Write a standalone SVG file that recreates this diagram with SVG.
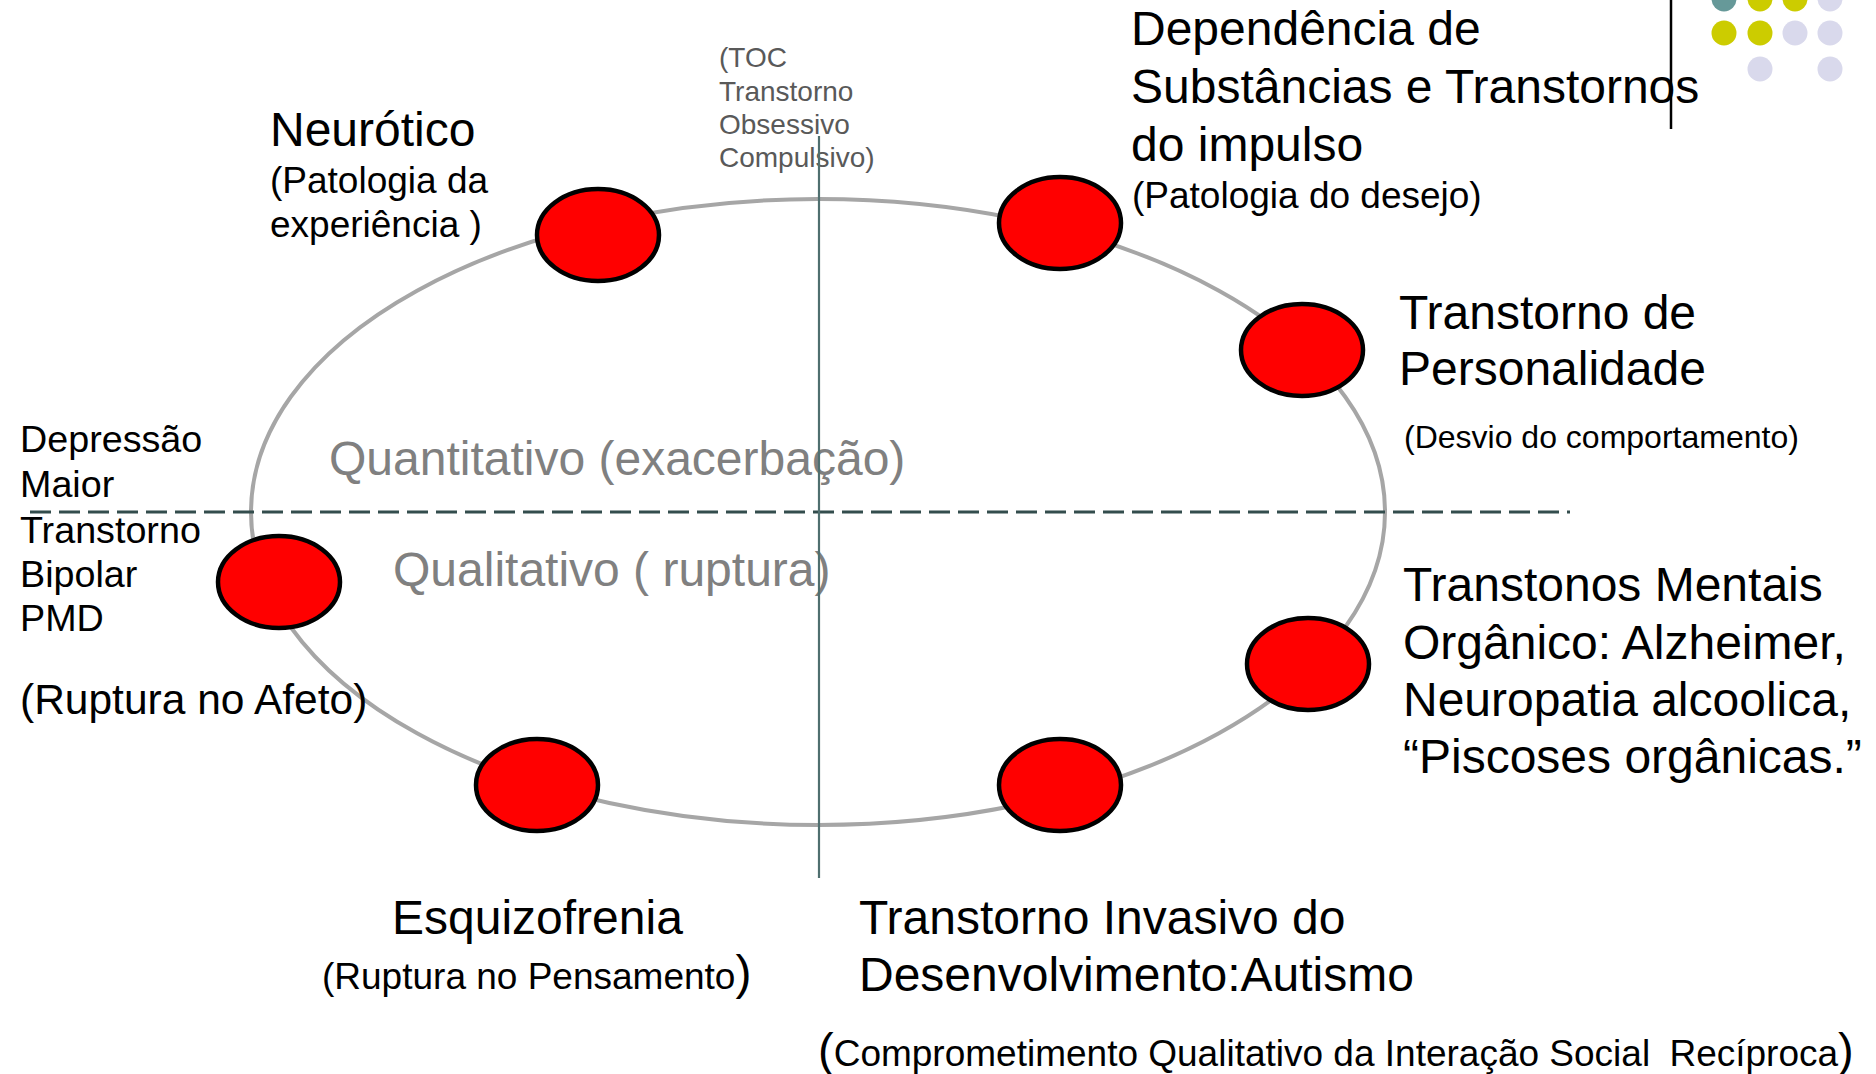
<svg xmlns="http://www.w3.org/2000/svg" width="1876" height="1074" viewBox="0 0 1876 1074">
<style>
  text { font-family: "Liberation Sans", Arial, sans-serif; fill: #000; }
  .t { font-size: 48px; }
  .s { font-size: 37px; }
  .side { font-size: 37.7px; }
  .toc { font-size: 28px; fill: #595959; }
  .zone { font-size: 48px; fill: #808080; }
  .node { fill: #FF0000; stroke: #000; stroke-width: 4.5; }
  .ring { fill: none; stroke: #A6A6A6; stroke-width: 4; }
  .vaxis { stroke: #4F6F6F; stroke-width: 2.2; }
  .haxis { stroke: #334D4D; stroke-width: 3; stroke-dasharray: 21 8; }
</style>
<rect width="1876" height="1074" fill="#FFFFFF"/>

<g id="decor">
  <line x1="1671" y1="0" x2="1671" y2="129" stroke="#000" stroke-width="2.5"/>
  <circle cx="1724" cy="-1" r="12.5" fill="#669999"/>
  <circle cx="1760" cy="-1" r="12.5" fill="#CCCC00"/>
  <circle cx="1795" cy="-1" r="12.5" fill="#CCCC00"/>
  <circle cx="1830" cy="-1" r="12.5" fill="#D9D9EC"/>
  <circle cx="1724" cy="33" r="12.5" fill="#CCCC00"/>
  <circle cx="1760" cy="33" r="12.5" fill="#CCCC00"/>
  <circle cx="1795" cy="33" r="12.5" fill="#D9D9EC"/>
  <circle cx="1830" cy="33" r="12.5" fill="#D9D9EC"/>
  <circle cx="1760" cy="69" r="12.5" fill="#D9D9EC"/>
  <circle cx="1830" cy="69" r="12.5" fill="#D9D9EC"/>
</g>

<g id="connectors">
  <ellipse class="ring" cx="818" cy="512" rx="567" ry="313"/>
  <line class="haxis" x1="30" y1="512" x2="1570" y2="512"/>
</g>

<g id="zones">
  <text class="zone" x="329" y="475">Quantitativo (exacerbação)</text>
  <text class="zone" x="393" y="586">Qualitativo ( ruptura)</text>
</g>

<g id="toc">
  <text class="toc" x="719" y="67">(TOC</text>
  <text class="toc" x="719" y="101">Transtorno</text>
  <text class="toc" x="719" y="134">Obsessivo</text>
  <text class="toc" x="719" y="167">Compulsivo)</text>
</g>

<g id="node-neurotico">
  <ellipse class="node" cx="598" cy="235" rx="61" ry="46"/>
  <text class="t" x="270" y="146">Neurótico</text>
  <text class="s" x="270" y="193">(Patologia da</text>
  <text class="s" x="270" y="237">experiência )</text>
</g>

<g id="node-dependencia">
  <ellipse class="node" cx="1060" cy="223" rx="61" ry="46"/>
  <text class="t" x="1131" y="45">Dependência de</text>
  <text class="t" x="1131" y="103">Substâncias e Transtornos</text>
  <text class="t" x="1131" y="161">do impulso</text>
  <text class="s" x="1132" y="208">(Patologia do desejo)</text>
</g>

<g id="node-personalidade">
  <ellipse class="node" cx="1302" cy="350" rx="61" ry="46"/>
  <text class="t" x="1399" y="329">Transtorno de</text>
  <text class="t" x="1399" y="385">Personalidade</text>
  <text x="1404" y="448" font-size="32">(Desvio do comportamento)</text>
</g>

<g id="node-organico">
  <ellipse class="node" cx="1308" cy="664" rx="61" ry="46"/>
  <text class="t" x="1403" y="601">Transtonos Mentais</text>
  <text class="t" x="1403" y="659">Orgânico: Alzheimer,</text>
  <text class="t" x="1403" y="716">Neuropatia alcoolica,</text>
  <text class="t" x="1403" y="773">“Piscoses orgânicas.”</text>
</g>

<g id="node-autismo">
  <ellipse class="node" cx="1060" cy="785" rx="61" ry="46"/>
  <text class="t" x="859" y="934">Transtorno Invasivo do</text>
  <text class="t" x="859" y="991">Desenvolvimento:Autismo</text>
  <text x="818" y="1066" font-size="37"><tspan font-size="47">(</tspan>Comprometimento Qualitativo da Interação Social <tspan dx="9">Recíproca</tspan><tspan font-size="47">)</tspan></text>
</g>

<g id="node-esquizofrenia">
  <ellipse class="node" cx="537" cy="785" rx="61" ry="46"/>
  <text class="t" x="392" y="934">Esquizofrenia</text>
  <text x="322" y="989" font-size="37"><tspan>(Ruptura no Pensamento</tspan><tspan font-size="48">)</tspan></text>
</g>

<g id="node-bipolar">
  <ellipse class="node" cx="279" cy="582" rx="61" ry="46"/>
  <text class="side" x="20" y="452">Depressão</text>
  <text class="side" x="20" y="497">Maior</text>
  <text class="side" x="20" y="543">Transtorno</text>
  <text class="side" x="20" y="587">Bipolar</text>
  <text class="side" x="20" y="631">PMD</text>
  <text x="20" y="714" font-size="42.5">(Ruptura no Afeto)</text>
</g>

<g id="axis">
  <line class="vaxis" x1="819" y1="136" x2="819" y2="878"/>
</g>
</svg>
